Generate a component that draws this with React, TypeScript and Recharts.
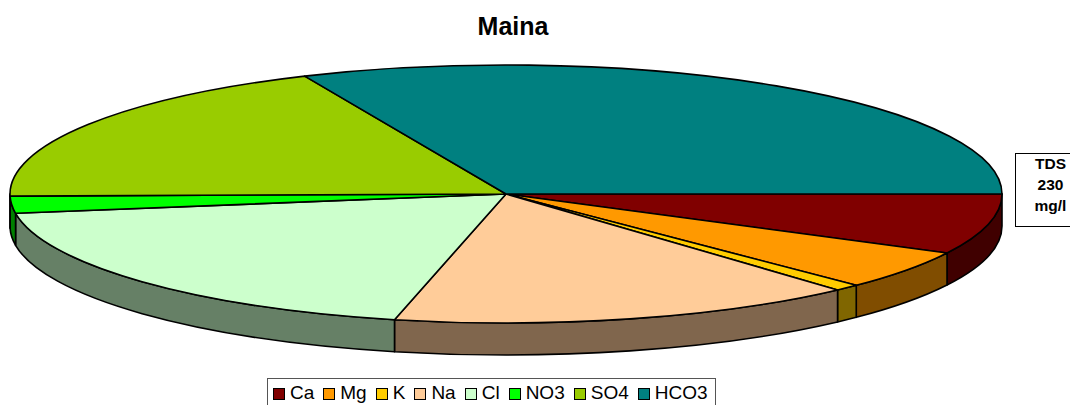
import React from "react";
import { PieChart, Pie, Legend } from "recharts";

const categories = ["Ca", "Mg", "K", "Na", "Cl", "NO3", "SO4", "HCO3"];
const values = [17.4, 11.4, 1.9, 35.1, 43.7, 4.9, 42.8, 72.8];
const topColors = ["#800000", "#FF9900", "#FFCC00", "#FFCC99", "#CCFFCC", "#00FF00", "#99CC00", "#008080"];
const wallColors = ["#400000", "#804D00", "#806600", "#80664D", "#668066", "#008000", "#4D6600", "#004040"];
const title = "Maina";
const noteLines = ["TDS", "230", "mg/l"];

const FONT = '"Liberation Sans", Arial, sans-serif';
const CX = 506;
const CY = 194;
const RX = 496;
const TILT = 129 / 496;
const DEPTH = 32;

const table = categories.map((name, i) => ({
  name,
  value: values[i],
  fill: topColors[i],
  wall: wallColors[i],
}));

function EllipseSector(props: any) {
  const { cx, cy, outerRadius, startAngle, endAngle, fill, payload } = props;
  const rx = outerRadius;
  const ry = outerRadius * TILT;
  const t1 = -startAngle;
  const t2 = -endAngle;
  const pt = (deg: number) => {
    const r = (deg * Math.PI) / 180;
    return [cx + rx * Math.cos(r), cy + ry * Math.sin(r)];
  };
  const [x1, y1] = pt(t1);
  const [x2, y2] = pt(t2);
  const large = t2 - t1 > 180 ? 1 : 0;
  const wallStart = Math.max(t1, 0);
  const wallEnd = Math.min(t2, 180);
  let wall = null;
  if (wallEnd > wallStart) {
    const [a, b] = pt(wallStart);
    const [c, d] = pt(wallEnd);
    wall = (
      <path
        d={`M${a},${b} A${rx},${ry} 0 0 1 ${c},${d} L${c},${d + DEPTH} A${rx},${ry} 0 0 0 ${a},${b + DEPTH} Z`}
        fill={payload?.wall ?? props.wall}
        stroke="#000"
        strokeWidth={1.6}
        strokeLinejoin="round"
      />
    );
  }
  return (
    <g>
      {wall}
      <path
        d={`M${cx},${cy} L${x1},${y1} A${rx},${ry} 0 ${large} 1 ${x2},${y2} Z`}
        fill={fill}
        stroke="#000"
        strokeWidth={1.6}
        strokeLinejoin="round"
      />
    </g>
  );
}

function LegendBox() {
  return (
    <div
      style={{
        boxSizing: "border-box",
        width: 449,
        height: 30,
        border: "1px solid #555",
        background: "#fff",
        display: "flex",
        alignItems: "flex-start",
        paddingLeft: 5,
        paddingTop: 3,
        fontFamily: FONT,
        fontSize: 19,
        lineHeight: "22px",
        color: "#000",
        whiteSpace: "nowrap",
      }}
    >
      {categories.map((c, i) => (
        <span key={c} style={{ display: "inline-flex", alignItems: "center", marginRight: i === categories.length - 1 ? 0 : 9 }}>
          <span
            style={{
              display: "inline-block",
              boxSizing: "border-box",
              width: 12,
              height: 12,
              border: "1px solid #000",
              background: topColors[i],
              marginRight: 5,
              marginTop: 1,
            }}
          />
          {c}
        </span>
      ))}
    </div>
  );
}

export default function App() {
  return (
    <div style={{ position: "absolute", left: 0, top: 0, width: 1070, height: 405, overflow: "hidden", background: "#fff" }}>
      <div
        style={{
          position: "absolute",
          left: 413,
          width: 200,
          top: 12,
          textAlign: "center",
          fontFamily: FONT,
          fontWeight: 700,
          fontSize: 25,
          lineHeight: "28px",
        }}
      >
        {title}
      </div>
      <PieChart width={1070} height={405} margin={{ top: 0, right: 0, bottom: 0, left: 0 }}>
        <Pie
          data={table}
          dataKey="value"
          nameKey="name"
          cx={CX}
          cy={CY}
          innerRadius={0}
          outerRadius={RX}
          startAngle={0}
          endAngle={-360}
          paddingAngle={0}
          stroke="#000"
          isAnimationActive={false}
          labelLine={false}
          shape={EllipseSector}
        />
        <Legend
          content={() => <LegendBox />}
          layout="horizontal"
          wrapperStyle={{ position: "absolute", left: 267, top: 378, width: 449, height: 30, bottom: "auto" }}
        />
      </PieChart>
      <div
        style={{
          position: "absolute",
          left: 1015,
          top: 153,
          width: 70,
          height: 74,
          boxSizing: "border-box",
          border: "1px solid #000",
          background: "#fff",
        }}
      >
        <div
          style={{
            width: 69,
            textAlign: "center",
            fontFamily: FONT,
            fontWeight: 700,
            fontSize: 15.5,
            lineHeight: "21px",
            marginTop: -1,
          }}
        >
          {noteLines.map((l) => (
            <div key={l}>{l}</div>
          ))}
        </div>
      </div>
    </div>
  );
}
